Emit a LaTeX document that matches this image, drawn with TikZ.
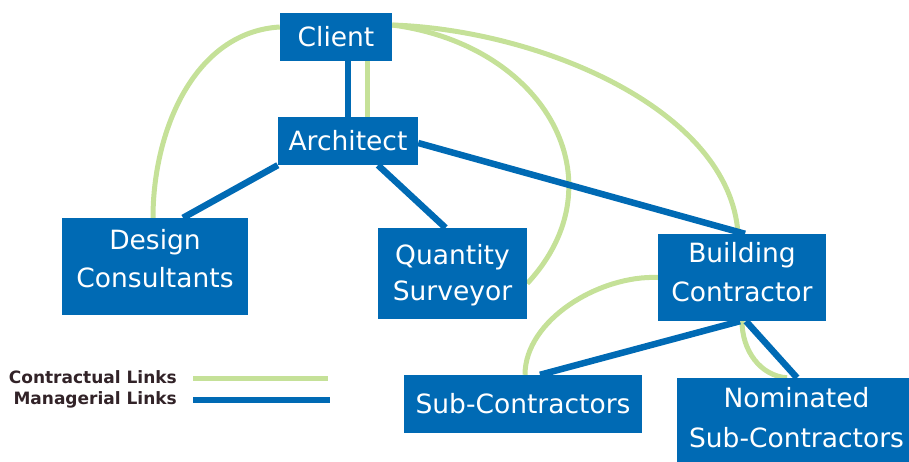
\documentclass[tikz,border=0pt]{standalone}
\usepackage{fontspec}
\setmainfont{DejaVu Sans}
\usetikzlibrary{calc}
\definecolor{mblue}{RGB}{0,106,180}
\definecolor{cgreen}{RGB}{197,225,152}
\definecolor{legtext}{RGB}{50,35,40}
\pgfdeclarelayer{bg}
\pgfsetlayers{bg,main}
\tikzset{
  box/.style={fill=mblue, inner sep=0pt},
  boxtext/.style={text=white, inner sep=0pt, align=center, font=\fontsize{26.5}{#1}\selectfont},
  boxtext/.default=38,
  mg/.style={draw=mblue, line width=6.5pt},
  ct/.style={draw=cgreen, line width=5pt},
  legendtext/.style={anchor=east, inner sep=0pt, font=\bfseries\fontsize{17}{20}\selectfont, text=legtext}
}
\begin{document}
\begin{tikzpicture}[x=1pt,y=-1pt]
\useasboundingbox (0,0) rectangle (909,462);
% boxes
\node[box, minimum width=112, minimum height=48] (client) at (336,37) {};
\node[box, minimum width=140, minimum height=48] (architect) at (348,141) {};
\node[box, minimum width=186, minimum height=97] (design) at (155,266.5) {};
\node[box, minimum width=149, minimum height=91] (qs) at (452.5,273.5) {};
\node[box, minimum width=168, minimum height=87] (bc) at (742,277.5) {};
\node[box, minimum width=238, minimum height=58] (sub) at (523,404) {};
\node[box, minimum width=243, minimum height=92] (nom) at (798.5,424) {};
% box texts
\node[boxtext] (client-t) at (client.center) {Client};
\node[boxtext] (architect-t) at (architect.center) {Architect};
\node[boxtext=38] (design-t) at ($(design.center)+(0,-7.5)$) {Design\\Consultants};
\node[boxtext=36] (qs-t) at ($(qs.center)+(0,2)$) {Quantity\\Surveyor};
\node[boxtext=39] (bc-t) at ($(bc.center)+(0,-5)$) {Building\\Contractor};
\node[boxtext] (sub-t) at ($(sub.center)+(0,-0.5)$) {Sub-Contractors};
\node[boxtext=40] (nom-t) at ($(nom.center)+(-2,-6.5)$) {Nominated\\Sub-Contractors};
% legend
\node[legendtext] (lc) at (177,377) {Contractual Links};
\node[legendtext] (lm) at (177,400) {Managerial Links};
\coordinate (lc1) at (193,378); \coordinate (lc2) at (328,378);
\coordinate (lm1) at (193,400); \coordinate (lm2) at (330,400);
\draw[ct] (lc1) -- (lc2);
\draw[mg] (lm1) -- (lm2);

\begin{pgfonlayer}{bg}
% contractual links
\draw[ct] ([xshift=31]client.south) -- ([xshift=19]architect.north);
\draw[ct] ([yshift=10]client.west) .. controls ($(client.west)+(-85,-5)$) and ($(design.north)+(-2,-88)$) .. ([xshift=-2]design.north);
\draw[ct] ([yshift=12]client.east) .. controls ($(client.east)+(153,8)$) and ($(qs.east)+(95,-92)$) .. ([yshift=-10]qs.east);
\draw[ct] ([yshift=12]client.east) .. controls ($(client.east)+(148,-7)$) and ($(bc.north)+(-12,-124)$) .. ([xshift=-4]bc.north);
\draw[ct] (bc.west) .. controls ($(bc.west)+(-58,-2.5)$) and ($(sub.north)+(2,-55)$) .. ([xshift=2]sub.north);
\draw[ct] (bc.south) .. controls ($(bc.south)+(0,29)$) and ($(nom.north)+(-38.5,-2)$) .. ([xshift=-11.5]nom.north);
% managerial links
\draw[mg] (architect.north) -- (architect.north |- client.south);
\draw[mg] (architect.south west) -- ([xshift=28]design.north);
\draw[mg] ([xshift=30]architect.south) -- ([xshift=-7]qs.north);
\draw[mg] ([yshift=-2]architect.east) -- ([xshift=3]bc.north);
\draw[mg] ([xshift=-2]bc.south) -- ([xshift=17]sub.north);
\draw[mg] ([xshift=4]bc.south) -- ([xshift=-1.5]nom.north);
\end{pgfonlayer}
\end{tikzpicture}
\end{document}
